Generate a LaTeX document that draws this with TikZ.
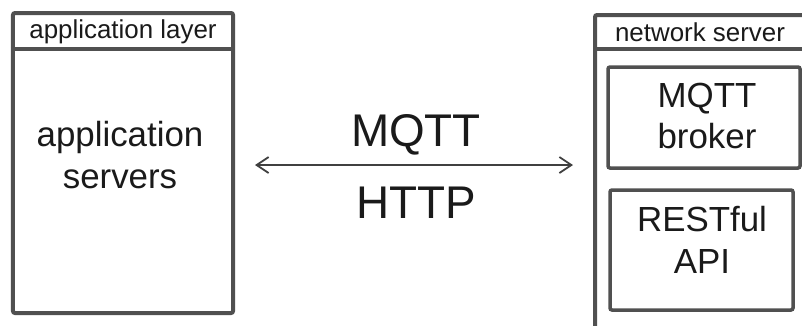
\documentclass[tikz,border=0pt]{standalone}
\usepackage{fontspec}
\setmainfont{Liberation Sans}
\usetikzlibrary{arrows.meta}
\definecolor{boxgray}{HTML}{505050}
\definecolor{txt}{HTML}{1A1A1A}
\begin{document}
\begin{tikzpicture}[x=1bp,y=-1bp,
  outerbox/.style={draw=boxgray, line width=4bp, rounded corners=2bp, inner sep=0pt},
  innerbox/.style={draw=boxgray, line width=3.5bp, rounded corners=2bp, inner sep=0pt},
  headtext/.style={text=txt, font=\fontsize{26}{30}\selectfont, inner sep=0pt},
  bigtext/.style={text=txt, align=center, font=\fontsize{35}{42}\selectfont, inner sep=0pt},
  protext/.style={text=txt, font=\fontsize{46}{54}\selectfont, inner sep=0pt},
  arr/.style={draw=boxgray!80!black, line width=1.8bp, {Straight Barb[length=12bp,width=16bp]}-{Straight Barb[length=12bp,width=16bp]}}
]
\useasboundingbox (0,0) rectangle (802,325);
\clip (0,0) rectangle (802,325);
\fill[white] (0,0) rectangle (802,325);
% left box
\node[outerbox, minimum width=220bp, minimum height=300bp] (appbox) at (123,163) {};
\draw[boxgray, line width=4bp] (appbox.west |- 0,49) coordinate (appsepL) -- (appbox.east |- 0,49) coordinate (appsepR);
\node[headtext] (applayer) at (123,32) {application layer};
\node[bigtext] (appservers) at (120,155) {application\\servers};
% right box
\node[outerbox, minimum width=220bp, minimum height=330bp, anchor=north west] (netbox) at (593,13) {};
\draw[boxgray, line width=4bp] (netbox.west |- 0,49) coordinate (netsepL) -- (netbox.east |- 0,49) coordinate (netsepR);
\node[headtext] (netserver) at (700,32) {network server};
\node[innerbox, minimum width=192bp, minimum height=101bp] (brokerbox) at (704,117.5) {};
\node[bigtext] (broker) at (707,116) {MQTT\\broker};
\node[innerbox, minimum width=183bp, minimum height=120bp] (restbox) at (701.5,250) {};
\node[bigtext] (rest) at (702,240) {RESTful\\API};
% protocols
\node[protext] (mqtt) at (416,135) {MQTT};
\node[protext] (http) at (416,203) {HTTP};
\coordinate (aL) at (255,165);
\coordinate (aR) at (573,165);
\draw[arr] (aL) -- (aR);
\end{tikzpicture}
\end{document}
